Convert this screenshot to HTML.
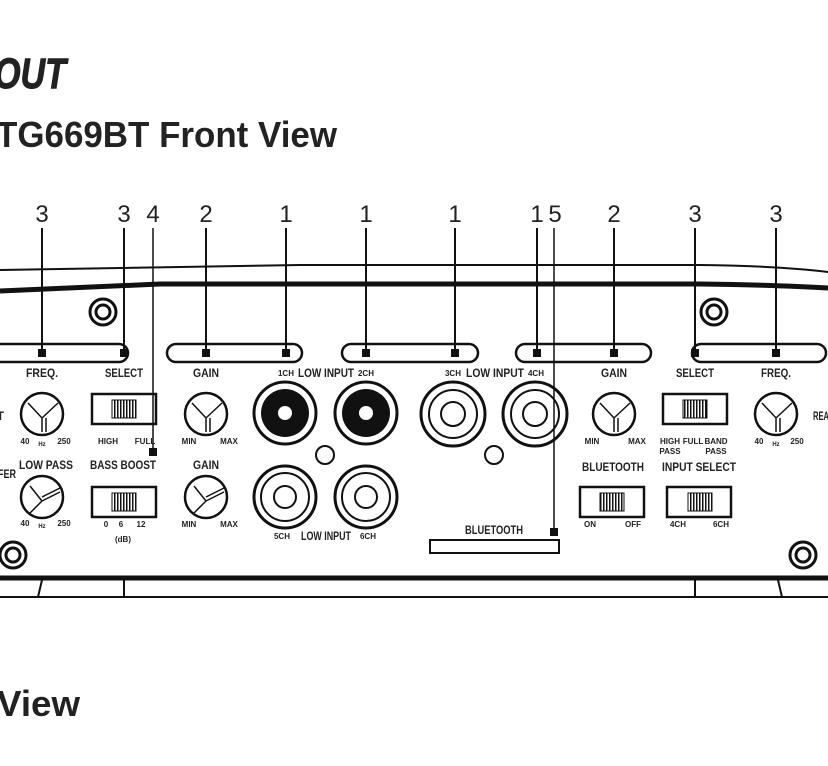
<!DOCTYPE html>
<html><head><meta charset="utf-8"><style>
html,body{margin:0;padding:0;background:#fff;}
svg{display:block;}
.n{font-family:"Liberation Sans",sans-serif;font-size:24px;fill:#222;}
.l{font-family:"Liberation Sans",sans-serif;font-weight:bold;fill:#222;}
</style></head><body>
<svg width="828" height="766" viewBox="0 0 828 766" xmlns="http://www.w3.org/2000/svg">
<rect width="828" height="766" fill="#fff"/>
<text x="-6" y="88" class="l" font-size="43" font-style="italic" textLength="72" lengthAdjust="spacingAndGlyphs" stroke="#222" stroke-width="1">OUT</text>
<text x="-4" y="147" class="l" font-size="36" textLength="341" lengthAdjust="spacingAndGlyphs">TG669BT Front View</text>
<text x="-3" y="716" class="l" font-size="36" textLength="83" lengthAdjust="spacingAndGlyphs">View</text>
<g class="n" text-anchor="middle">
<text x="42" y="222">3</text><text x="124" y="222">3</text><text x="153" y="222">4</text>
<text x="206" y="222">2</text><text x="286" y="222">1</text><text x="366" y="222">1</text>
<text x="455" y="222">1</text><text x="537" y="222">1</text><text x="555" y="222">5</text>
<text x="614" y="222">2</text><text x="695" y="222">3</text><text x="776" y="222">3</text>
</g>
<g stroke="#111" fill="none">
<path d="M0 270 L300 265 L700 265 Q780 266 828 272" stroke-width="2"/>
<path d="M0 291 L160 284 L700 284 Q780 285 828 288" stroke-width="5"/>
<path d="M0 578 L828 578" stroke-width="5"/>
<path d="M0 597 L828 597" stroke-width="2"/>
<path d="M124 580 V597 M42 580 L38 597 M695 580 V597 M778 580 L782 597" stroke-width="2"/>
<g stroke-width="2">
<path d="M42 228V353 M124 228V353 M206 228V353 M286 228V353 M366 228V353 M455 228V353 M537 228V353 M614 228V353 M695 228V353 M776 228V353"/>
<path d="M153 228V452 M554 228V532" stroke-width="1.5"/>
</g>
<g stroke-width="2.5">
<rect x="-20" y="344" width="148" height="18" rx="9"/>
<rect x="167" y="344" width="135" height="18" rx="9"/>
<rect x="342" y="344" width="136" height="18" rx="9"/>
<rect x="516" y="344" width="135" height="18" rx="9"/>
<rect x="692" y="344" width="134" height="18" rx="9"/>
</g>
<g stroke-width="3">
<circle cx="103" cy="312" r="13"/><circle cx="103" cy="312" r="7"/>
<circle cx="714" cy="312" r="13"/><circle cx="714" cy="312" r="7"/>
<circle cx="13" cy="555" r="13"/><circle cx="13" cy="555" r="7"/>
<circle cx="803" cy="555" r="13"/><circle cx="803" cy="555" r="7"/>
</g>
<g stroke-width="2.5">
<circle cx="42" cy="414" r="21"/><circle cx="206" cy="414" r="21"/>
<circle cx="42" cy="497" r="21"/><circle cx="206" cy="497" r="21"/>
<circle cx="614" cy="414" r="21"/><circle cx="776" cy="414" r="21"/>
</g>
<g stroke-width="1.5">
<path d="M28 403 L42 418 L58 403 M42 418 V432 M46 418 V432"/>
<path d="M192 403 L206 418 L222 403 M206 418 V432 M210 418 V432"/>
<path d="M600 403 L614 418 L630 403 M614 418 V432 M618 418 V432"/>
<path d="M762 403 L776 418 L792 403 M776 418 V432 M780 418 V432"/>
<path d="M30 486 L42 501 L30 513 M42 501 L60 492 M42 497 L60 488"/>
<path d="M194 486 L206 501 L194 513 M206 501 L224 492 M206 497 L224 488"/>
</g>
<g stroke-width="3">
<circle cx="285" cy="413" r="31"/><circle cx="366" cy="413" r="31"/>
<circle cx="285" cy="497" r="31"/><circle cx="285" cy="497" r="24" stroke-width="2"/><circle cx="285" cy="497" r="11" stroke-width="2"/>
<circle cx="366" cy="497" r="31"/><circle cx="366" cy="497" r="24" stroke-width="2"/><circle cx="366" cy="497" r="11" stroke-width="2"/>
<circle cx="453" cy="414" r="32"/><circle cx="453" cy="414" r="24" stroke-width="2"/><circle cx="453" cy="414" r="12" stroke-width="2"/>
<circle cx="535" cy="414" r="32"/><circle cx="535" cy="414" r="24" stroke-width="2"/><circle cx="535" cy="414" r="12" stroke-width="2"/>
<circle cx="325" cy="455" r="9" stroke-width="2"/><circle cx="494" cy="455" r="9" stroke-width="2"/>
</g>
<g stroke-width="2.5">
<rect x="92" y="394" width="64" height="30"/><rect x="92" y="487" width="64" height="30"/>
<rect x="663" y="394" width="64" height="30"/><rect x="580" y="487" width="64" height="30"/>
<rect x="667" y="487" width="64" height="30"/>
<rect x="430" y="540" width="129" height="13" stroke-width="2"/>
</g>
</g>
<g fill="#111">
<circle cx="285" cy="413" r="24"/><circle cx="366" cy="413" r="24"/>
</g>
<g fill="#fff"><circle cx="285" cy="413" r="7"/><circle cx="366" cy="413" r="7"/></g>
<g fill="#111">
<rect x="38" y="349" width="8" height="8"/><rect x="120" y="349" width="8" height="8"/>
<rect x="202" y="349" width="8" height="8"/><rect x="282" y="349" width="8" height="8"/>
<rect x="362" y="349" width="8" height="8"/><rect x="451" y="349" width="8" height="8"/>
<rect x="533" y="349" width="8" height="8"/><rect x="610" y="349" width="8" height="8"/>
<rect x="691" y="349" width="8" height="8"/><rect x="772" y="349" width="8" height="8"/>
<rect x="149" y="448" width="8" height="8"/><rect x="550" y="528" width="8" height="8"/>
</g>
<defs><pattern id="h" width="3" height="4" patternUnits="userSpaceOnUse"><rect width="1.5" height="4" fill="#111"/></pattern></defs>
<g fill="url(#h)" stroke="#111" stroke-width="1">
<rect x="112" y="400" width="24" height="18"/><rect x="112" y="493" width="24" height="18"/>
<rect x="683" y="400" width="24" height="18"/><rect x="600" y="493" width="24" height="18"/>
<rect x="688" y="493" width="24" height="18"/>
</g>
<g class="l" font-size="12" text-anchor="middle">
<text x="42" y="377" textLength="32" lengthAdjust="spacingAndGlyphs">FREQ.</text>
<text x="124" y="377" textLength="38" lengthAdjust="spacingAndGlyphs">SELECT</text>
<text x="206" y="377" textLength="26" lengthAdjust="spacingAndGlyphs">GAIN</text>
<text x="326" y="377" textLength="56" lengthAdjust="spacingAndGlyphs">LOW INPUT</text>
<text x="495" y="377" textLength="58" lengthAdjust="spacingAndGlyphs">LOW INPUT</text>
<text x="614" y="377" textLength="26" lengthAdjust="spacingAndGlyphs">GAIN</text>
<text x="695" y="377" textLength="38" lengthAdjust="spacingAndGlyphs">SELECT</text>
<text x="776" y="377" textLength="30" lengthAdjust="spacingAndGlyphs">FREQ.</text>
<text x="46" y="469" textLength="54" lengthAdjust="spacingAndGlyphs">LOW PASS</text>
<text x="123" y="469" textLength="66" lengthAdjust="spacingAndGlyphs">BASS BOOST</text>
<text x="206" y="469" textLength="26" lengthAdjust="spacingAndGlyphs">GAIN</text>
<text x="326" y="540" textLength="50" lengthAdjust="spacingAndGlyphs">LOW INPUT</text>
<text x="613" y="471" textLength="62" lengthAdjust="spacingAndGlyphs">BLUETOOTH</text>
<text x="699" y="471" textLength="74" lengthAdjust="spacingAndGlyphs">INPUT SELECT</text>
<text x="494" y="534" textLength="58" lengthAdjust="spacingAndGlyphs">BLUETOOTH</text>
<text x="4" y="420" text-anchor="end" textLength="16" lengthAdjust="spacingAndGlyphs">NT</text>
<text x="16" y="478" text-anchor="end" textLength="18" lengthAdjust="spacingAndGlyphs">FER</text>
<text x="813" y="420" text-anchor="start" textLength="16" lengthAdjust="spacingAndGlyphs">REA</text>
</g>
<g class="l" font-size="8" text-anchor="middle">
<text x="286" y="376">1CH</text><text x="366" y="376">2CH</text>
<text x="453" y="376">3CH</text><text x="536" y="376">4CH</text>
<text x="282" y="539">5CH</text><text x="368" y="539">6CH</text>
<text x="25" y="444">40</text><text x="42" y="446" font-size="6">Hz</text><text x="64" y="444">250</text>
<text x="25" y="526">40</text><text x="42" y="528" font-size="6">Hz</text><text x="64" y="526">250</text>
<text x="108" y="444">HIGH</text><text x="145" y="444">FULL</text>
<text x="106" y="527">0</text><text x="121" y="527">6</text><text x="141" y="527">12</text>
<text x="123" y="542">(dB)</text>
<text x="189" y="444">MIN</text><text x="229" y="444">MAX</text>
<text x="189" y="527">MIN</text><text x="229" y="527">MAX</text>
<text x="592" y="444">MIN</text><text x="637" y="444">MAX</text>
<text x="670" y="444">HIGH</text><text x="693" y="444">FULL</text><text x="716" y="444">BAND</text>
<text x="670" y="454">PASS</text><text x="716" y="454">PASS</text>
<text x="759" y="444">40</text><text x="776" y="446" font-size="6">Hz</text><text x="797" y="444">250</text>
<text x="590" y="527">ON</text><text x="633" y="527">OFF</text>
<text x="678" y="527">4CH</text><text x="721" y="527">6CH</text>
</g>
</svg>
</body></html>
